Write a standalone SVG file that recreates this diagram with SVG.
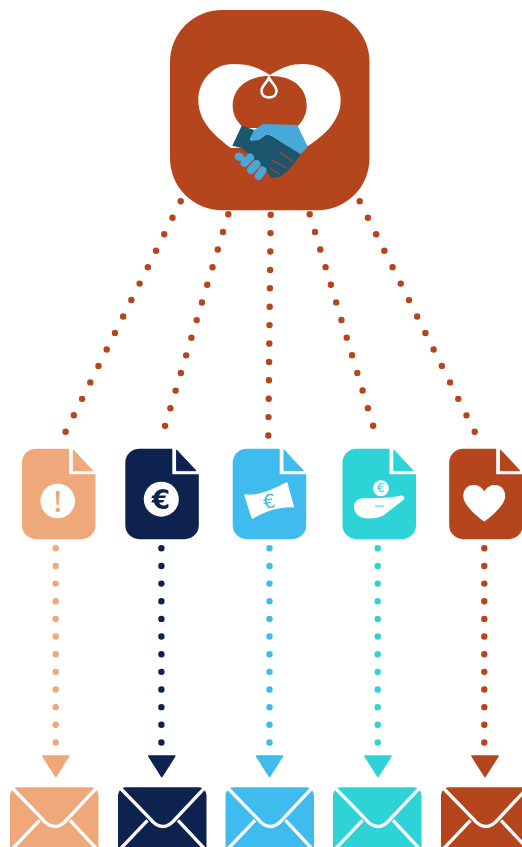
<svg xmlns="http://www.w3.org/2000/svg" width="522" height="847" viewBox="0 0 522 847">
<style>
.dots{fill:none;stroke-width:6.400;stroke-linecap:round}
.up{stroke:#B5441D;stroke-dasharray:0 18.400}
.low{stroke-dasharray:0 17.650}
.w{fill:#fff}
.eu{font-family:"DejaVu Sans","Liberation Sans",sans-serif;text-anchor:middle}
.peach{fill:#EFA87A;stroke:#EFA87A;color:#EFA87A}
.navy{fill:#0E224F;stroke:#0E224F;color:#0E224F}
.sky{fill:#3FBBEE;stroke:#3FBBEE;color:#3FBBEE}
.teal{fill:#2DD3D8;stroke:#2DD3D8;color:#2DD3D8}
.rust{fill:#B5441D;stroke:#B5441D;color:#B5441D}
</style>
<defs>
<filter id="soft" x="0" y="0" width="100%" height="100%"><feGaussianBlur stdDeviation="0.6"/></filter>
<g id="doc" stroke="none">
<path d="M14 0H47V25.500H73.500V76.500A14 14 0 0 1 59.500 90.500H14A14 14 0 0 1 0 76.500V14A14 14 0 0 1 14 0Z"/>
<path d="M51.300 1.300L70.700 22H51.300Z" stroke-linejoin="round" stroke-width="1" stroke="currentColor"/>
</g>
<g id="env">
<rect x="0" y="0" width="88.500" height="72" rx="8" stroke="none"/>
<path d="M0-1.500L31.700 31Q44.500 47.500 58 31L88.500-1.500M29.500 33L0 64M60 33L89 64" fill="none" stroke="#fff" stroke-width="3.400"/>
</g>
<path id="tri" d="M-13 1H13L0 21.500Z" stroke-width="1.600" stroke-linejoin="round"/>
</defs>
<g filter="url(#soft)">
<g id="connectors">
<path class="dots up" d="M180.700 201.300L65.300 432.400"/>
<path class="dots up" d="M228.300 214.300L165 426.200"/>
<path class="dots up" d="M270.700 214.700L268.300 436.200"/>
<path class="dots up" d="M309.700 214.300L373.300 426.200"/>
<path class="dots up" d="M359.700 201.300L475 432.400"/>
<path class="dots low" style="stroke:#EFA87A" d="M55.700 548.300V743"/>
<path class="dots low" style="stroke:#0E224F" d="M161.400 548.300V743"/>
<path class="dots low" style="stroke:#3FBBEE" d="M269.500 548.300V743"/>
<path class="dots low" style="stroke:#2DD3D8" d="M377.700 548.300V743"/>
<path class="dots low" style="stroke:#B5441D" d="M484.300 548.300V743"/>
<use href="#tri" class="peach" x="55.800" y="755"/>
<use href="#tri" class="navy" x="161.800" y="755"/>
<use href="#tri" class="sky" x="269.500" y="755"/>
<use href="#tri" class="teal" x="378" y="755"/>
<use href="#tri" class="rust" x="485" y="755"/>
</g>
<g id="top-node">
<rect x="170" y="10" width="199.500" height="200.300" rx="52" fill="#B5441D"/>
<path class="w" d="M270 75C282 67 292 64 303 64C325 64 340.700 80 340.700 100C340.700 122 322 137 308 146L231 148C216 137 198.300 122 198.300 100C198.300 80 214 64 233 64C248 64 258 67 270 75Z"/>
<path fill="#B5441D" d="M269 76C290 75 307 86 306.700 106C306.700 115 302 122 296 128L244 128C237 122 232.700 115 232.700 106C232.700 86 250 76 269 76Z"/>
<path d="M269 77.500C271 83 276.500 85.500 276.500 91C276.500 95.500 273 97.500 269 97.500C265 97.500 261.500 95.500 261.500 91C261.500 85.500 267 83 269 77.500Z" fill="none" stroke="#fff" stroke-width="2.600"/>
<path fill="#1C566E" d="M232.300 145.700L241.700 125.700L254.300 130L250 140L258.300 140L266.700 134.300L271.700 135.700L300.700 154.300L299 156.700L293.300 165L286.700 171.700L280 176.700L271.700 178L265 170L253 158L241.700 148Z"/>
<path fill="#46A8DA" d="M254.300 130L263.300 124L297.300 125L307.700 146.700L300.700 154.300L271.700 135.700L266.700 134.300L258.300 140L251 141L250 138.300Z"/>
<path d="M280 152.300L293.300 161.700M271.700 160L286.700 168.300M270 168.500L279 174" fill="none" stroke="#B5441D" stroke-width="1.100"/>
<path d="M238.500 156.500L240 157M244.500 163L250 157.500M251 170L256.500 164M258.500 176L262.500 170.500" fill="none" stroke="#46A8DA" stroke-width="8" stroke-linecap="round"/>
</g>
<g id="doc-alert">
<use href="#doc" class="peach" x="22" y="448.700"/>
<circle class="w" cx="57.700" cy="501" r="17.300"/>
<path d="M55.700 491H59.700L58.800 505H56.600Z" fill="#EFA87A"/>
<circle cx="57.700" cy="510" r="2.300" fill="#EFA87A"/>
</g>
<g id="doc-euro">
<use href="#doc" class="navy" x="125.300" y="448.700"/>
<circle class="w" cx="161.300" cy="499.200" r="17.500"/>
<text class="eu" x="161" y="509" font-size="26.500" font-weight="700" fill="#0E224F">€</text>
</g>
<g id="doc-note">
<use href="#doc" class="sky" x="232.700" y="448.700"/>
<path class="w" d="M245 495C255 497 268 493 286.700 483L293.300 506.700C282 506 268 509 252.300 518Z" stroke="#fff" stroke-width="1.500" stroke-linejoin="round"/>
<text class="eu" x="269.300" y="508" font-size="19" fill="#3FBBEE" transform="rotate(-8 269.300 501)">€</text>
</g>
<g id="doc-hand">
<use href="#doc" class="teal" x="342.500" y="448.700"/>
<circle class="w" cx="381" cy="488.300" r="8"/>
<text class="eu" x="381" y="492.300" font-size="11.500" fill="#2DD3D8">€</text>
<path class="w" d="M354 506.700C354 501 358 499 363 498.300L376.700 498C384 498.500 394 497 401 495.500C403.500 495 405.500 497.500 404 499.500L383.300 515.500C378 518.500 368 519.500 361.700 517.500C356.500 515.500 354 511 354 506.700Z"/>
<path d="M375 506.200L384 506" fill="none" stroke="#2DD3D8" stroke-width="1"/>
</g>
<g id="doc-heart">
<use href="#doc" class="rust" x="449.200" y="448.700"/>
<path class="w" d="M484.300 491.500C487 486.500 491 485 495 485C501 485 505.200 489.500 505.200 496C505.200 505 492 516 484.300 521.500C476.500 516 463.300 505 463.300 496C463.300 489.500 467.500 485 473.500 485C477.500 485 481.500 486.500 484.300 491.500Z"/>
</g>
<g id="mail-1"><use href="#env" class="peach" x="10" y="787.300"/></g>
<g id="mail-2"><use href="#env" class="navy" x="118" y="787.300"/></g>
<g id="mail-3"><use href="#env" class="sky" x="225.500" y="787.300"/></g>
<g id="mail-4"><use href="#env" class="teal" x="333" y="787.300"/></g>
<g id="mail-5"><use href="#env" class="rust" x="441" y="787.300"/></g>
</g>
</svg>
